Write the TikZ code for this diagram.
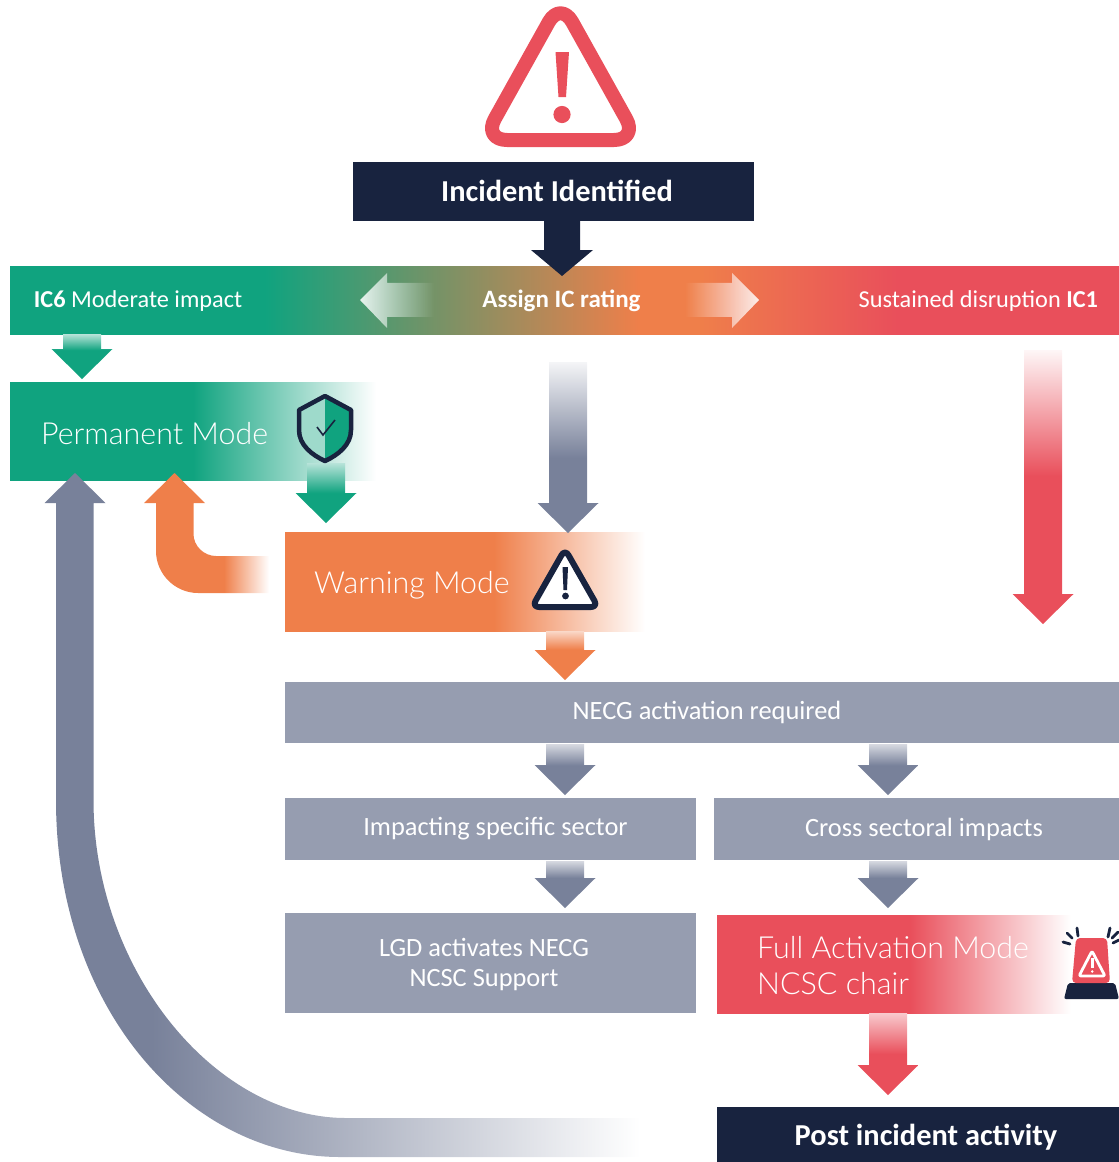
\documentclass[tikz,border=0pt]{standalone}
\usepackage{fontspec}
\setmainfont{Carlito}
\newfontfamily\lightf{Lato Light}
\usetikzlibrary{calc,fadings}
\definecolor{navy}{HTML}{18233F}
\definecolor{tealc}{HTML}{10A37F}
\definecolor{orangec}{HTML}{EF7F4A}
\definecolor{redc}{HTML}{E94F5B}
\definecolor{greyb}{HTML}{969DB0}
\definecolor{greya}{HTML}{78819A}
\colorlet{teallt}{tealc!30}
\colorlet{orangelt}{orangec!30}
\colorlet{greylt}{greya!30}
\colorlet{redlt}{redc!30}
\colorlet{verylt}{greya!8}
\colorlet{redvlt}{redc!5}
\newcommand\mkv[4]{\pgfdeclareverticalshading{#1}{100bp}{color(0bp)=(#2); color(#4bp)=(#2); color(75bp)=(#3); color(100bp)=(#3)}}
\newcommand\mkh[3]{\pgfdeclarehorizontalshading{#1}{100bp}{color(0bp)=(#2); color(#3bp)=(#2); color(75bp)=(white); color(100bp)=(white)}}
\mkv{vteal}{tealc}{teallt}{57}
\mkv{vtealb}{tealc}{teallt}{50}
\mkv{vorange}{orangec}{orangelt}{56}
\mkv{vgrey}{greya}{greylt}{54}
\mkv{vgreyb}{greya}{greylt}{57}
\mkv{vgreymid}{greya}{verylt}{47}
\mkv{vred}{redc}{redvlt}{52}
\mkv{vredb}{redc}{redlt}{50}
\mkh{hperm}{tealc}{50}
\mkh{hwarn}{orangec}{54}
\pgfdeclarehorizontalshading{hfull}{100bp}{color(0bp)=(redc); color(49bp)=(redc); color(69bp)=(white); color(100bp)=(white)}
\mkh{horange}{orangec}{57}
\mkh{hlong}{greya}{34}
\pgfdeclarehorizontalshading{hbar}{100bp}{color(0bp)=(tealc); color(36.5bp)=(tealc); color(53.4bp)=(orangec); color(56bp)=(orangec); color(65bp)=(redc); color(100bp)=(redc)}
\tikzset{
  plain/.style={inner sep=0pt,outer sep=0pt,text=white,font=\fontsize{26.4}{30}\selectfont,align=center},
  box/.style={inner sep=0pt,outer sep=0pt,minimum width=#1},
  lighttext/.style={inner sep=0pt,text=white,font=\lightf\fontsize{30.4}{36}\selectfont,align=left},
  boldtext/.style={plain,font=\bfseries\fontsize{30.4}{34}\selectfont},
  ictext/.style={plain,font=\fontsize{24.3}{28}\selectfont}
}
\newcommand\varrow[3]{%
  \shade[shading=#3] let \p1=(#1),\p2=(#2) in
    (\x1-19pt,\y1) -- (\x1+19pt,\y1) -- (\x1+19pt,\y2+30pt) -- (\x1+30.5pt,\y2+30pt)
    -- (\x2,\y2) -- (\x1-30.5pt,\y2+30pt) -- (\x1-19pt,\y2+30pt) -- cycle;}
\begin{document}
\begin{tikzpicture}[x=1pt,y=-1pt]
\useasboundingbox (0,0) rectangle (1119,1162);
% top warning sign
\draw[redc,line width=14pt,line join=round,rounded corners=24pt]
  (560.5,1) -- (483,140) -- (638,140) -- cycle;
\fill[redc] (555.5,52) -- (569,52) -- (566,97) -- (558.5,97) -- cycle;
\fill[redc] (562,114.5) circle (8.6);
% boxes
\node[box=401,minimum height=59,fill=navy] (inc) at (553.5,191.5) {};
\node[boldtext] (inct) at (557,191) {Incident Identified};
\shade[shading=hbar] (10,266) rectangle (1119,334);
\node[box=834.5,minimum height=61,fill=greyb] (necg) at (702.25,712.5) {};
\node[plain] (necgt) at (707,712) {NECG activation required};
\node[box=411,minimum height=62,fill=greyb] (spec) at (490.5,829) {};
\node[plain] (spect) at (495.5,829) {Impacting specific sector};
\node[box=405,minimum height=62,fill=greyb] (cross) at (916.5,829) {};
\node[plain] (crosst) at (924,829) {Cross sectoral impacts};
\node[box=411,minimum height=100,fill=greyb] (lgd) at (490.5,963) {};
\node[plain] (lgdt) at (484,964) {LGD activates NECG\\NCSC Support};
\node[box=402,minimum height=55,fill=navy] (post) at (918,1134.5) {};
\node[boldtext] (postt) at (926,1137) {Post incident activity};
% fading boxes
\shade[shading=hperm] (10,382) rectangle (376,480);
\shade[shading=hwarn] (285,532) rectangle (645,631);
\shade[shading=hfull] (717,915) rectangle (1119,1013);
\node[lighttext,anchor=west] (permt) at (41,434) {Permanent Mode};
\node[lighttext,anchor=west] (warnt) at (314,585) {Warning Mode};
\node[lighttext,anchor=west] (fullt) at (757,966) {Full Activation Mode\\NCSC chair};
% bar labels
\node[ictext,anchor=west] (ic6) at (34,301) {\textbf{IC6} Moderate impact};
\node[ictext] (assign) at (561.5,301) {\textbf{\fontsize{25}{28}\selectfont Assign IC rating}};
\node[ictext,anchor=east] (ic1) at (1098,301) {Sustained disruption \textbf{IC1}};
% bar fade arrows
\fill[white,fill opacity=.88,path fading=east] (360,300) -- (387,273) -- (387,283) -- (434,283) -- (434,317) -- (387,317) -- (387,328) -- cycle;
\fill[white,fill opacity=.88,path fading=west] (759,300) -- (732,273) -- (732,283) -- (685,283) -- (685,317) -- (732,317) -- (732,328) -- cycle;
% named ends
\coordinate (a0s) at (562,221); \coordinate (a0e) at (562,276);
\coordinate (a1s) at (82,334);  \coordinate (a1e) at (82,379);
\coordinate (a2s) at (326,463); \coordinate (a2e) at (326,523);
\coordinate (a3s) at (568,362); \coordinate (a3e) at (568,533);
\coordinate (a4s) at (1043,350);\coordinate (a4e) at (1043,624);
\coordinate (a5s) at (565,631); \coordinate (a5e) at (565,680);
\coordinate (a6s) at (565,744); \coordinate (a6e) at (565,795);
\coordinate (a7s) at (888,744); \coordinate (a7e) at (888,795);
\coordinate (a8s) at (565,861); \coordinate (a8e) at (565,908);
\coordinate (a9s) at (888,861); \coordinate (a9e) at (888,908);
\coordinate (a10s) at (888,1013);\coordinate (a10e) at (888,1095);
\coordinate (tipO) at (174.5,473);
\coordinate (tipG) at (75,473);
\fill[navy] let \p1=(a0s),\p2=(a0e) in (\x1-18pt,\y1) -- (\x1+18pt,\y1) -- (\x1+18pt,\y2+26pt) -- (\x1+31pt,\y2+26pt) -- (\x2,\y2) -- (\x1-31pt,\y2+26pt) -- (\x1-18pt,\y2+26pt) -- cycle;
\varrow{a1s}{a1e}{vteal}
\varrow{a2s}{a2e}{vtealb}
\varrow{a3s}{a3e}{vgreymid}
\varrow{a4s}{a4e}{vred}
\varrow{a5s}{a5e}{vorange}
\varrow{a6s}{a6e}{vgrey}
\varrow{a7s}{a7e}{vgrey}
\varrow{a8s}{a8e}{vgreyb}
\varrow{a9s}{a9e}{vgreyb}
\varrow{a10s}{a10e}{vredb}
% orange return arrow
\shade[shading=horange,shift={(tipO)}] (0,0) -- (30.5,30) -- (19,30) -- (19,61)
  .. controls (19,73) and (29.5,83) .. (41.5,83) -- (94.5,83) -- (94.5,120) -- (23.5,120)
  .. controls (0.5,120) and (-18.5,101) .. (-18.5,78) -- (-18.5,30) -- (-30.5,30) -- cycle;
% long return arrow
\shade[shading=hlong,shift={(tipG)}] (0,0) -- (30.5,30) -- (18.5,30) -- (18.5,327)
  .. controls (18.5,497) and (140,645) .. (271,645) -- (565,645) -- (565,684) -- (265,684)
  .. controls (115,684) and (-19,537) .. (-19,327) -- (-19,30) -- (-30.5,30) -- cycle;
% shield icon
\begin{scope}
\clip (325,394) -- (352,410) -- (352,430) .. controls (352,445) and (338,456) .. (325,463) .. controls (312,456) and (298,445) .. (298,430) -- (298,410) -- cycle;
\fill[teallt!85!tealc] (297,390) rectangle (325,465);
\fill[tealc] (325,390) rectangle (354,465);
\end{scope}
\draw[navy,line width=4.5pt,line join=round] (325,396) -- (351,410) -- (351,430) .. controls (351,445) and (338,455) .. (325,461) .. controls (312,455) and (299,445) .. (299,430) -- (299,410) -- cycle;
\draw[navy,line width=1.6pt] (317,427) -- (323,435) -- (335,420);
% warning mode icon
\draw[navy,fill=white,line width=6pt,line join=round,rounded corners=7pt] (565,549) -- (532,607) -- (598,607) -- cycle;
\fill[navy] (562.5,567) -- (568,567) -- (567,590) -- (563.5,590) -- cycle;
\fill[navy] (565.5,596) circle (3.4);
% beacon icon
\fill[navy,rounded corners=2pt] (1068,983) -- (1115,983) -- (1119,999) -- (1064,999) -- cycle;
\fill[redc,rounded corners=4pt] (1072,983) -- (1076,938) -- (1107,938) -- (1110,983) -- cycle;
\draw[white,line width=2.8pt,line join=round,rounded corners=2pt] (1092,951) -- (1079,976) -- (1105,976) -- cycle;
\fill[white] (1091,958) rectangle (1093.6,968);
\fill[white] (1092.3,971.5) circle (1.4);
\draw[navy,line width=2.8pt,line cap=round] (1077,928) -- (1078,936);
\draw[navy,line width=2.8pt,line cap=round] (1067,933) -- (1072,938);
\draw[navy,line width=2.8pt,line cap=round] (1063,942) -- (1070,944);
\draw[navy,line width=2.8pt,line cap=round] (1110,928) -- (1108,937);
\draw[navy,line width=2.8pt,line cap=round] (1118,932) -- (1112,938);
\draw[navy,line width=2.8pt,line cap=round] (1119,940) -- (1113,943);
\end{tikzpicture}
\end{document}
